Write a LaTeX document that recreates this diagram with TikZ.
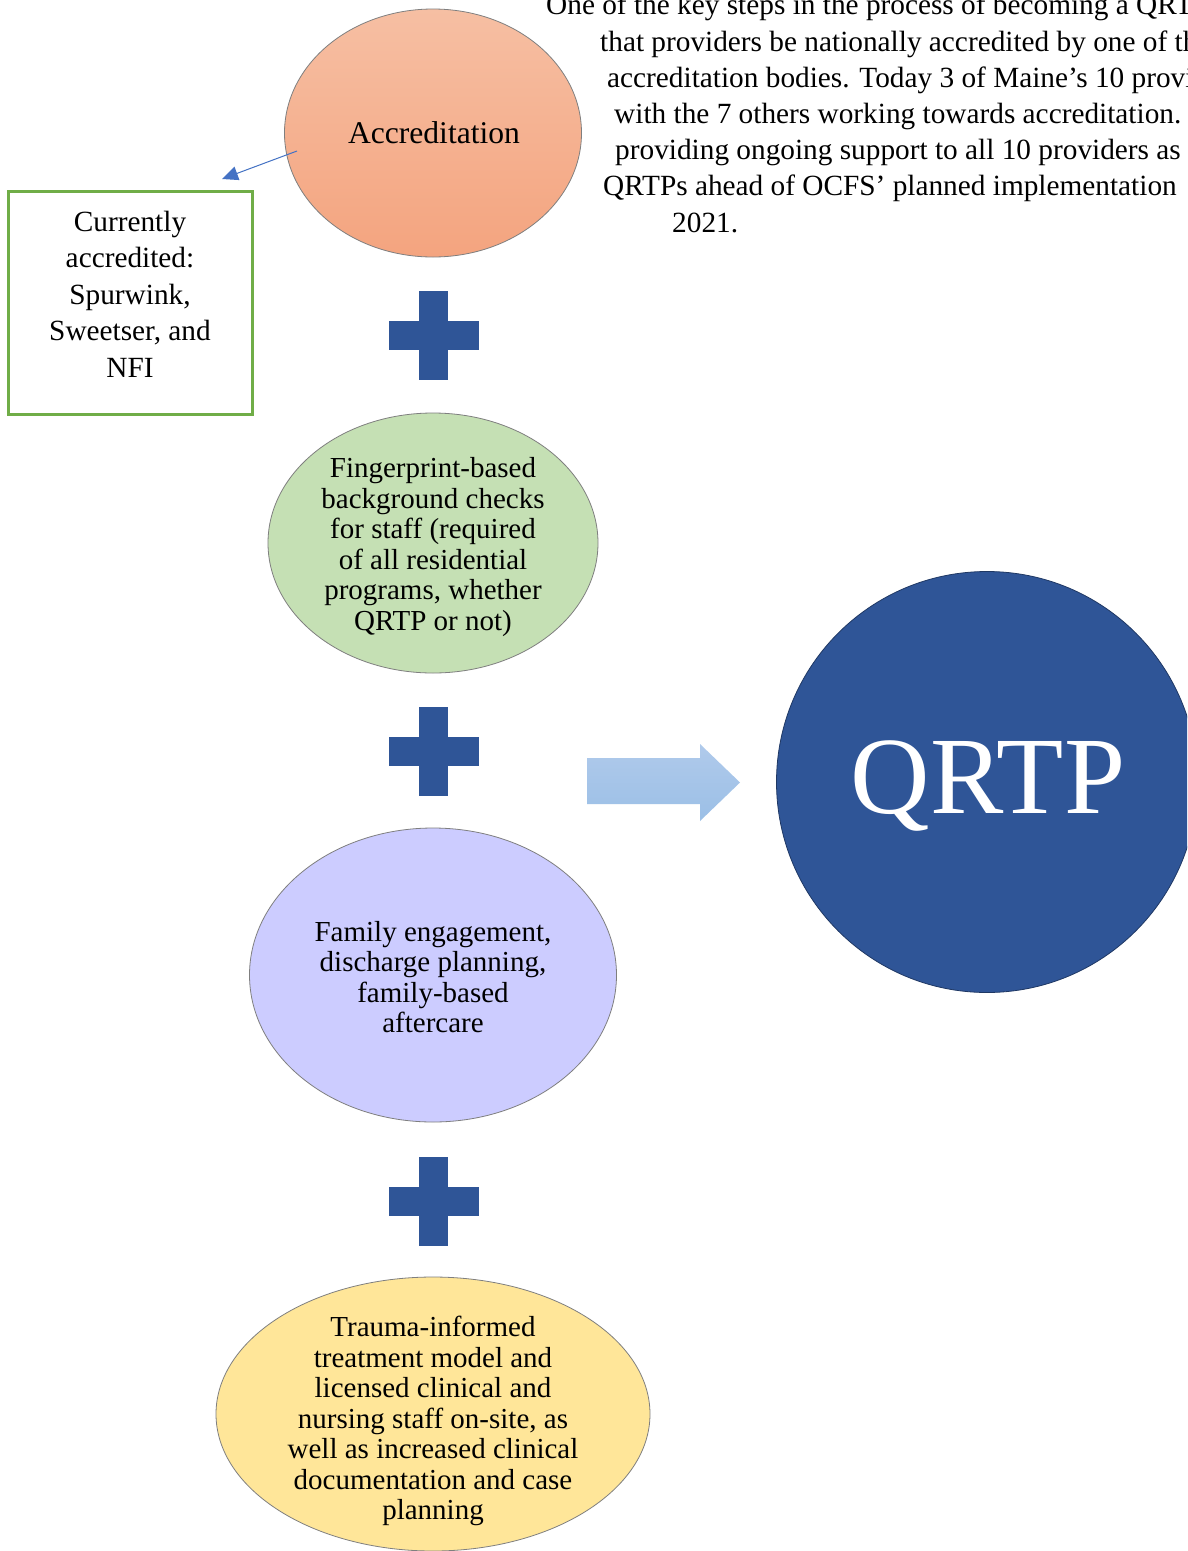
\documentclass[tikz,border=0pt]{standalone}
\usepackage{fontspec}
\setmainfont{Liberation Serif}
\usetikzlibrary{shapes.geometric,arrows.meta}
\definecolor{accTop}{HTML}{F6BFA3}
\definecolor{accBot}{HTML}{F4A47F}
\definecolor{fpGreen}{HTML}{C5E0B4}
\definecolor{famPurple}{HTML}{CCCCFF}
\definecolor{trYellow}{HTML}{FFE699}
\definecolor{plusBlue}{HTML}{2F5597}
\definecolor{qrtpBorder}{HTML}{1F3864}
\definecolor{arTop}{HTML}{B0CAEB}
\definecolor{arBot}{HTML}{9BBFE6}
\definecolor{boxGreen}{HTML}{70AD47}
\definecolor{linkBlue}{HTML}{4472C4}
\definecolor{rimGray}{HTML}{7F7F7F}
\begin{document}
\begin{tikzpicture}[x=1pt,y=-1pt,
  bubble/.style={ellipse, draw=rimGray, line width=0.8pt, inner sep=0pt},
  smalltxt/.style={align=center, inner sep=0pt, font=\fontsize{29}{30.5}\selectfont},
  boxtxt/.style={align=center, inner sep=0pt, font=\fontsize{29.3}{36.5}\selectfont},
  linetxt/.style={anchor=base west, inner sep=0pt, font=\fontsize{29.3}{36.5}\selectfont},
  plusbar/.style={fill=plusBlue}]
\useasboundingbox (0,0) rectangle (1187,1551);
\clip (0,0) rectangle (1187,1551);
\fill[white] (0,0) rectangle (1187,1551);

% top paragraph (clipped at right)
\node[linetxt] (p1) at (546,14.8) {One of the key steps in the process of becoming a QRTP};
\node[linetxt] (p2) at (600,51) {that providers be nationally accredited by one of the};
\node[linetxt] (p3) at (607,87.2) {accreditation bodies. Today 3 of Maine’s 10 providers};
\node[linetxt] (p4) at (614,123.4) {with the 7 others working towards accreditation.};
\node[linetxt] (p5) at (615,159.6) {providing ongoing support to all 10 providers as};
\node[linetxt] (p6) at (603,195.8) {QRTPs ahead of OCFS’ planned implementation};
\node[linetxt] (p7) at (672,232) {2021.};

% Accreditation
\node[bubble, minimum width=297pt, minimum height=248pt, top color=accTop, bottom color=accBot] (acc) at (433,133) {};
\node[font=\fontsize{31.6}{36.5}\selectfont, inner sep=0pt] (acct) at (434,133) {Accreditation};

% box
\node[draw=boxGreen, line width=2.5pt, minimum width=244pt, minimum height=223pt, inner sep=0pt] (box) at (130.5,303) {};
\node[boxtxt] (boxt) at (130,294) {Currently\\accredited:\\Spurwink,\\Sweetser, and\\NFI};

\coordinate (ls) at (297,151);
\coordinate (le) at (222,179);
\draw[linkBlue, line width=1pt, -{Triangle[length=16pt,width=14pt]}] (ls) -- (le);

% plus signs
\foreach \cy in {335.5, 751, 1201} {
  \fill[plusbar] (419,\cy-44.5) rectangle (448,\cy+44.5);
  \fill[plusbar] (389,\cy-14.5) rectangle (479,\cy+14.5);
}

% Fingerprint
\node[bubble, minimum width=330pt, minimum height=260pt, fill=fpGreen] (fp) at (433,543) {};
\node[smalltxt] (fpt) at (433,547) {Fingerprint-based\\background checks\\for staff (required\\of all residential\\programs, whether\\QRTP or not)};

% Family
\node[bubble, minimum width=367pt, minimum height=294pt, fill=famPurple] (fam) at (433,975) {};
\node[smalltxt] (famt) at (433,977) {Family engagement,\\discharge planning,\\family-based\\aftercare};

% Trauma
\node[bubble, minimum width=434pt, minimum height=274pt, fill=trYellow] (tr) at (433,1414) {};
\node[smalltxt] (trt) at (433,1421) {Trauma-informed\\treatment model and\\licensed clinical and\\nursing staff on-site, as\\well as increased clinical\\documentation and case\\planning};

% big arrow
\path[top color=arTop, bottom color=arBot] (587,758) -- (700,758) -- (700,744) -- (740,782.5) -- (700,821) -- (700,804) -- (587,804) -- cycle;

% QRTP
\node[circle, draw=qrtpBorder, line width=0.8pt, fill=plusBlue, minimum size=421pt, inner sep=0pt] (qrtp) at (987,782) {};
\node[text=white, inner sep=0pt, font=\fontsize{110}{114}\selectfont] (qrtpt) at (988,786) {QRTP};
\end{tikzpicture}
\end{document}
